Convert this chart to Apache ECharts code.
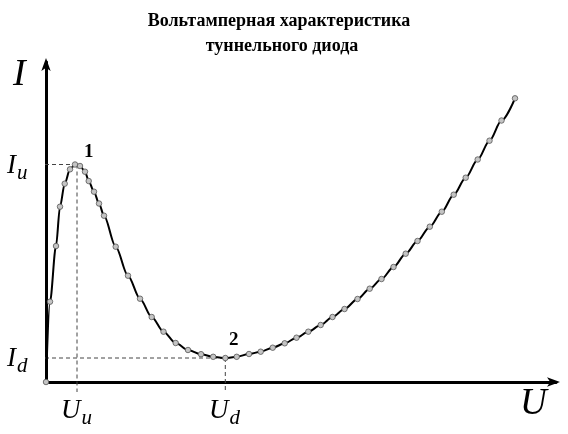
<!DOCTYPE html>
<html>
<head>
<meta charset="utf-8">
<script src="https://cdn.jsdelivr.net/npm/echarts@6/dist/echarts.min.js"></script>
<style>html,body{margin:0;padding:0;background:#fff;}#c{width:568px;height:434px;}</style>
</head>
<body>
<div id="c"></div>
<script>
// Voltage (U) and current (I) samples, arbitrary units
var voltage = [0, 4, 10, 14, 18.7, 24, 29, 34, 39, 42.7, 48, 53, 58, 69.7, 82, 94, 105.7, 117.5, 129.7, 142, 155, 167.2, 179.3, 190.7, 203, 214.7, 226.7, 238.7, 250.5, 262.3, 274.7, 286.5, 298.5, 311.5, 323.7, 335.5, 347.5, 359.7, 371.5, 383.8, 395.8, 407.7, 419.7, 431.7, 443.5, 455.5, 469];
var current = [0, 80.3, 136, 175.3, 198.3, 212.7, 217.5, 216, 210.3, 201, 190.3, 178.5, 166.3, 135.3, 106.3, 83.3, 65, 50.3, 39, 32, 27.8, 25.2, 24, 25.2, 28, 30.3, 34.3, 38.7, 44.3, 50.3, 57, 65, 73, 83, 93.3, 103, 115, 128.3, 141, 155.3, 170.3, 187.3, 204.3, 222.5, 241.3, 261.5, 283.7];
// Characteristic points: 1 = peak (Uu, Iu), 2 = valley (Ud, Id)
var pointU = [31, 179.3];
var pointI = [217.5, 24];
var titleLines = ['Вольтамперная характеристика', 'туннельного диода'];

var chart = echarts.init(document.getElementById('c'), null, {renderer: 'canvas'});
var curve = voltage.map(function (u, i) { return [u, current[i]]; });
var ext = 8; // how far guide lines reach past the axes (data units)
var dashStyle = {color: '#444', width: 1, type: [4, 3]};
function guide(data) {
  return {type: 'line', data: data, symbol: 'none', clip: false, silent: true,
          lineStyle: dashStyle, z: 1, animation: false};
}
var serif = '"Liberation Serif", "Times New Roman", serif';
var sub = function (a, b) {
  return {text: '{a|' + a + '}{b|' + b + '}', rich: {
    a: {font: 'italic 27px ' + serif, fill: '#000'},
    b: {font: 'italic 21px ' + serif, fill: '#000', padding: [15, 0, 0, 1]}}};
};

var option = {
  animation: false,
  grid: {left: 46, right: 12, top: 62, bottom: 52, containLabel: false},
  xAxis: {type: 'value', min: 0, max: 510,
    axisLine: {show: true, symbol: ['none', 'arrow'], symbolSize: [7, 13], symbolOffset: [0, 4],
      lineStyle: {color: '#000', width: 3}},
    axisTick: {show: false}, axisLabel: {show: false}, splitLine: {show: false}},
  yAxis: {type: 'value', min: 0, max: 320,
    axisLine: {show: true, symbol: ['none', 'arrow'], symbolSize: [7, 13], symbolOffset: [0, 4],
      lineStyle: {color: '#000', width: 3}},
    axisTick: {show: false}, axisLabel: {show: false}, splitLine: {show: false}},
  series: [
    guide([[-ext, pointI[0]], [pointU[0], pointI[0]]]),
    guide([[pointU[0], pointI[0]], [pointU[0], -ext - 2]]),
    guide([[-ext, pointI[1]], [pointU[1], pointI[1]]]),
    guide([[pointU[1], pointI[1]], [pointU[1], -ext - 2]]),
    {type: 'line', data: curve, smooth: 0.3, smoothMonotone: 'x', clip: false,
     symbol: 'circle', symbolSize: 5.5, showSymbol: true,
     lineStyle: {color: '#000', width: 2},
     itemStyle: {color: '#c4c4c4', borderColor: '#555', borderWidth: 0.8},
     z: 3}
  ],
  graphic: [
    {type: 'text', x: 279, y: 12, style: {text: titleLines[0], textAlign: 'center',
      font: 'bold 18px ' + serif, fill: '#000'}},
    {type: 'text', x: 282, y: 37, style: {text: titleLines[1], textAlign: 'center',
      font: 'bold 18px ' + serif, fill: '#000'}},
    {type: 'text', x: 13, y: 56, style: {text: 'I', font: 'italic 38px ' + serif, fill: '#000'}},
    {type: 'text', x: 520, y: 386, style: {text: 'U', font: 'italic 37px ' + serif, fill: '#000'}},
    {type: 'text', x: 7, y: 148, style: sub('I', 'u')},
    {type: 'text', x: 7, y: 341, style: sub('I', 'd')},
    {type: 'text', x: 61, y: 393, style: sub('U', 'u')},
    {type: 'text', x: 209, y: 393, style: sub('U', 'd')},
    {type: 'text', x: 84, y: 143, style: {text: '1', font: 'bold 19px ' + serif, fill: '#000'}},
    {type: 'text', x: 229, y: 331, style: {text: '2', font: 'bold 19px ' + serif, fill: '#000'}}
  ]
};
chart.setOption(option);
</script>
</body>
</html>
